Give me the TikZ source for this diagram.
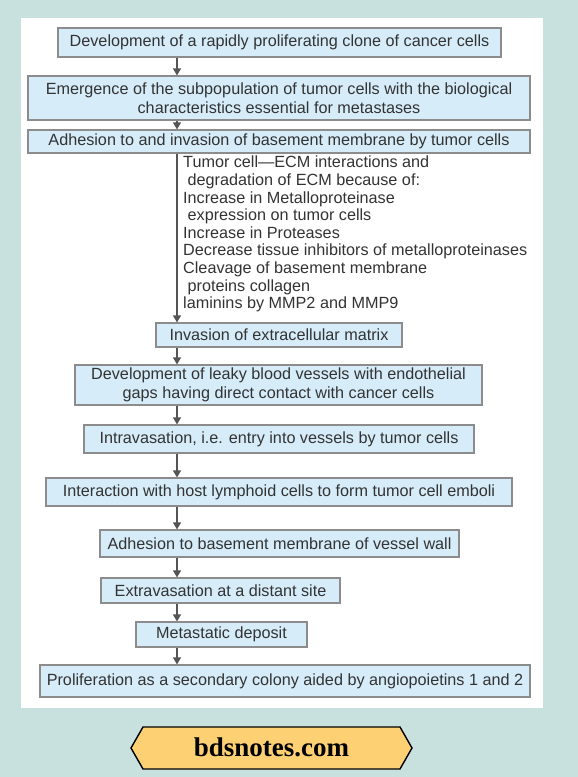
\documentclass[tikz,border=0pt]{standalone}
\usepackage{fontspec}
\setmainfont{Liberation Sans}
\newfontfamily\bannerfont{Liberation Serif}
\usetikzlibrary{arrows.meta}

\definecolor{pagebg}{RGB}{200,224,222}
\definecolor{boxfill}{RGB}{214,236,249}
\definecolor{boxline}{RGB}{140,140,140}
\definecolor{flowline}{RGB}{85,85,85}
\definecolor{inktext}{RGB}{51,51,51}
\definecolor{bannerfill}{RGB}{253,208,116}

\begin{document}
\begin{tikzpicture}[x=1pt,y=-1pt,
    stage/.style={draw=boxline, fill=boxfill, line width=1.1pt, text=inktext, inner sep=0pt, align=center, font=\fontsize{16.2}{18.5}\selectfont},
    flow/.style={draw=flowline, line width=1.2pt, -{Triangle[width=8pt,length=7pt]}}]
    % background and white panel
    \fill[pagebg] (0,0) rectangle (578,777);
    \fill[white] (21,18) rectangle (543,708);

    % draw stages
    \node[stage, minimum width=443, minimum height=29] (clone) at (279.5,42.5) {Development of a rapidly proliferating clone of cancer cells};
    \node[stage, minimum width=502, minimum height=44] (emerge) at (279,98) {Emergence of the subpopulation of tumor cells with the biological\\characteristics essential for metastases};
    \node[stage, minimum width=502, minimum height=23] (adhere) at (279,141.5) {Adhesion to and invasion of basement membrane by tumor cells};
    \node[stage, minimum width=246, minimum height=24] (matrix) at (279,335) {Invasion of extracellular matrix};
    \node[stage, minimum width=407, minimum height=40] (leaky) at (278.5,385) {Development of leaky blood vessels with endothelial\\gaps having direct contact with cancer cells};
    \node[stage, minimum width=390, minimum height=28] (intrav) at (279,439) {Intravasation, i.e. entry into vessels by tumor cells};
    \node[stage, minimum width=466, minimum height=28] (emboli) at (279,492) {Interaction with host lymphoid cells to form tumor cell emboli};
    \node[stage, minimum width=359, minimum height=27] (vwall) at (279.5,543.5) {Adhesion to basement membrane of vessel wall};
    \node[stage, minimum width=239, minimum height=25] (extrav) at (220.5,590.5) {Extravasation at a distant site};
    \node[stage, minimum width=171, minimum height=25] (deposit) at (221.5,634.5) {Metastatic deposit};
    \node[stage, minimum width=490, minimum height=32] (colony) at (285,681) {Proliferation as a secondary colony aided by angiopoietins 1 and 2};

    % draw notes on ECM
    \node[anchor=north west, inner sep=0pt, align=left, text=inktext, font=\fontsize{16.2}{17.6}\selectfont] (ecm) at (183,156) {Tumor cell—ECM interactions and\\
        \hspace*{4.5pt}degradation of ECM because of:\\
        Increase in Metalloproteinase\\
        \hspace*{4.5pt}expression on tumor cells\\
        Increase in Proteases\\
        Decrease tissue inhibitors of metalloproteinases\\
        Cleavage of basement membrane\\
        \hspace*{4.5pt}proteins collagen\\
        laminins by MMP2 and MMP9};

    % draw arrows
    \coordinate (spine) at (177,0);
    \draw[flow] (clone.south -| spine) -- (emerge.north -| spine);
    \draw[flow] (emerge.south -| spine) -- (adhere.north -| spine);
    \draw[flow] (adhere.south -| spine) -- (matrix.north -| spine);
    \draw[flow] (matrix.south -| spine) -- (leaky.north -| spine);
    \draw[flow] (leaky.south -| spine) -- (intrav.north -| spine);
    \draw[flow] (intrav.south -| spine) -- (emboli.north -| spine);
    \draw[flow] (emboli.south -| spine) -- (vwall.north -| spine);
    \draw[flow] (vwall.south -| spine) -- (extrav.north -| spine);
    \draw[flow] (extrav.south -| spine) -- (deposit.north -| spine);
    \draw[flow] (deposit.south -| spine) -- (colony.north -| spine);

    % draw banner
    \draw[fill=bannerfill, line width=1.4pt] (131,748) -- (143,727) -- (400,727) -- (412,748) -- (400,769) -- (143,769) -- cycle;
    \node[inner sep=0pt, font=\bannerfont\bfseries\fontsize{27}{30}\selectfont] (site) at (271.5,747) {bdsnotes.com};
\end{tikzpicture}
\end{document}
